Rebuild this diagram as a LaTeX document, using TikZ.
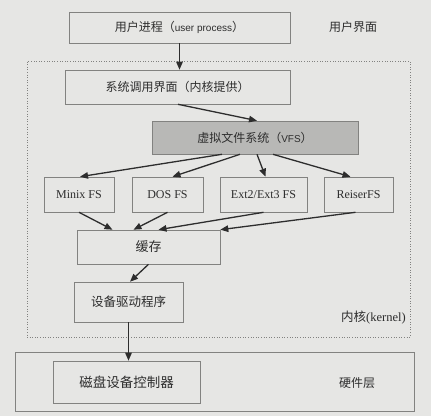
\documentclass[tikz,border=0pt]{standalone}
\usepackage{fontspec}
\setmainfont{Liberation Serif}
\newfontfamily\cjk{Noto Sans CJK SC}
\newfontfamily\lsans{Liberation Sans}
\usetikzlibrary{arrows.meta}
\definecolor{paper}{RGB}{230,230,228}
\definecolor{edge}{RGB}{130,130,128}
\definecolor{ink}{RGB}{45,45,45}
\definecolor{vfsfill}{RGB}{184,184,182}
\tikzset{
  box/.style={draw=edge, line width=0.6pt, fill=paper, inner sep=0pt, text=ink, font=\cjk\fontsize{12}{14}\selectfont},
  fsbox/.style={box, font=\fontsize{12}{14}\selectfont},
  region/.style={draw=edge, line width=0.6pt, inner sep=0pt},
  lbl/.style={text=ink, inner sep=0pt, font=\cjk\fontsize{12}{14}\selectfont},
  arr/.style={draw=ink, line width=1.3pt, -{Triangle[length=8pt,width=6.5pt]}},
}
\begin{document}
\begin{tikzpicture}[x=1pt,y=-1pt]
\useasboundingbox[fill=paper] (0,0) rectangle (431,416);
% regions
\node[region, dotted, minimum width=383pt, minimum height=276pt] (kernel) at (218.5,199) {};
\node[region, minimum width=399pt, minimum height=59pt] (hw) at (214.5,381.5) {};
% boxes
\node[box, minimum width=221pt, minimum height=31pt] (user) at (179.5,27.5) {用户进程（{\lsans\fontsize{10}{12}\selectfont user process}）};
\node[box, minimum width=225pt, minimum height=34pt] (sys) at (177.5,87) {系统调用界面（内核提供）};
\node[box, fill=vfsfill, minimum width=206pt, minimum height=33pt] (vfs) at (255,137.5) {虚拟文件系统（{\lsans\fontsize{10}{12}\selectfont VFS}）};
\node[fsbox, minimum width=70pt, minimum height=35pt] (minix) at (79,194.5) {Minix FS};
\node[fsbox, minimum width=71pt, minimum height=35pt] (dos) at (167.5,194.5) {DOS FS};
\node[fsbox, minimum width=87pt, minimum height=35pt] (ext) at (263.5,194.5) {Ext2/Ext3 FS};
\node[fsbox, minimum width=69pt, minimum height=35pt] (reiser) at (358.5,194.5) {ReiserFS};
\node[box, minimum width=143pt, minimum height=34pt, font=\cjk\fontsize{13}{15}\selectfont] (cache) at (148.5,247) {缓存};
\node[box, minimum width=109pt, minimum height=40pt, font=\cjk\fontsize{12.5}{15}\selectfont] (driver) at (128.5,302) {设备驱动程序};
\node[box, minimum width=147pt, minimum height=42pt, font=\cjk\fontsize{13.5}{16}\selectfont] (disk) at (126.5,382) {磁盘设备控制器};
% labels
\node[lbl] (lu) at (353,27) {用户界面};
\node[lbl, anchor=east, font=\cjk\fontsize{12.5}{15}\selectfont] (lk) at (406,318) {内核\rmfamily(kernel)};
\node[lbl] (lh) at (357,383) {硬件层};
% arrows
\draw[arr] (user.south) -- (user.south |- sys.north);
\draw[arr] ([xshift=0.5pt]sys.south) -- ([xshift=2pt]vfs.north);
\draw[arr] ([xshift=-33pt]vfs.south) -- ([xshift=1pt]minix.north);
\draw[arr] ([xshift=-15pt]vfs.south) -- ([xshift=5pt]dos.north);
\draw[arr] ([xshift=2pt]vfs.south) -- ([xshift=2pt]ext.north);
\draw[arr] ([xshift=18pt]vfs.south) -- ([xshift=-8pt]reiser.north);
\draw[arr] (minix.south) -- ([xshift=-36pt]cache.north);
\draw[arr] (dos.south) -- ([xshift=-15pt]cache.north);
\draw[arr] (ext.south) -- ([xshift=10pt]cache.north);
\draw[arr] ([xshift=-3pt]reiser.south) -- (cache.north east);
\draw[arr] (cache.south) -- ([xshift=1.5pt]driver.north);
\draw[arr] (driver.south) -- (driver.south |- disk.north);
\end{tikzpicture}
\end{document}
